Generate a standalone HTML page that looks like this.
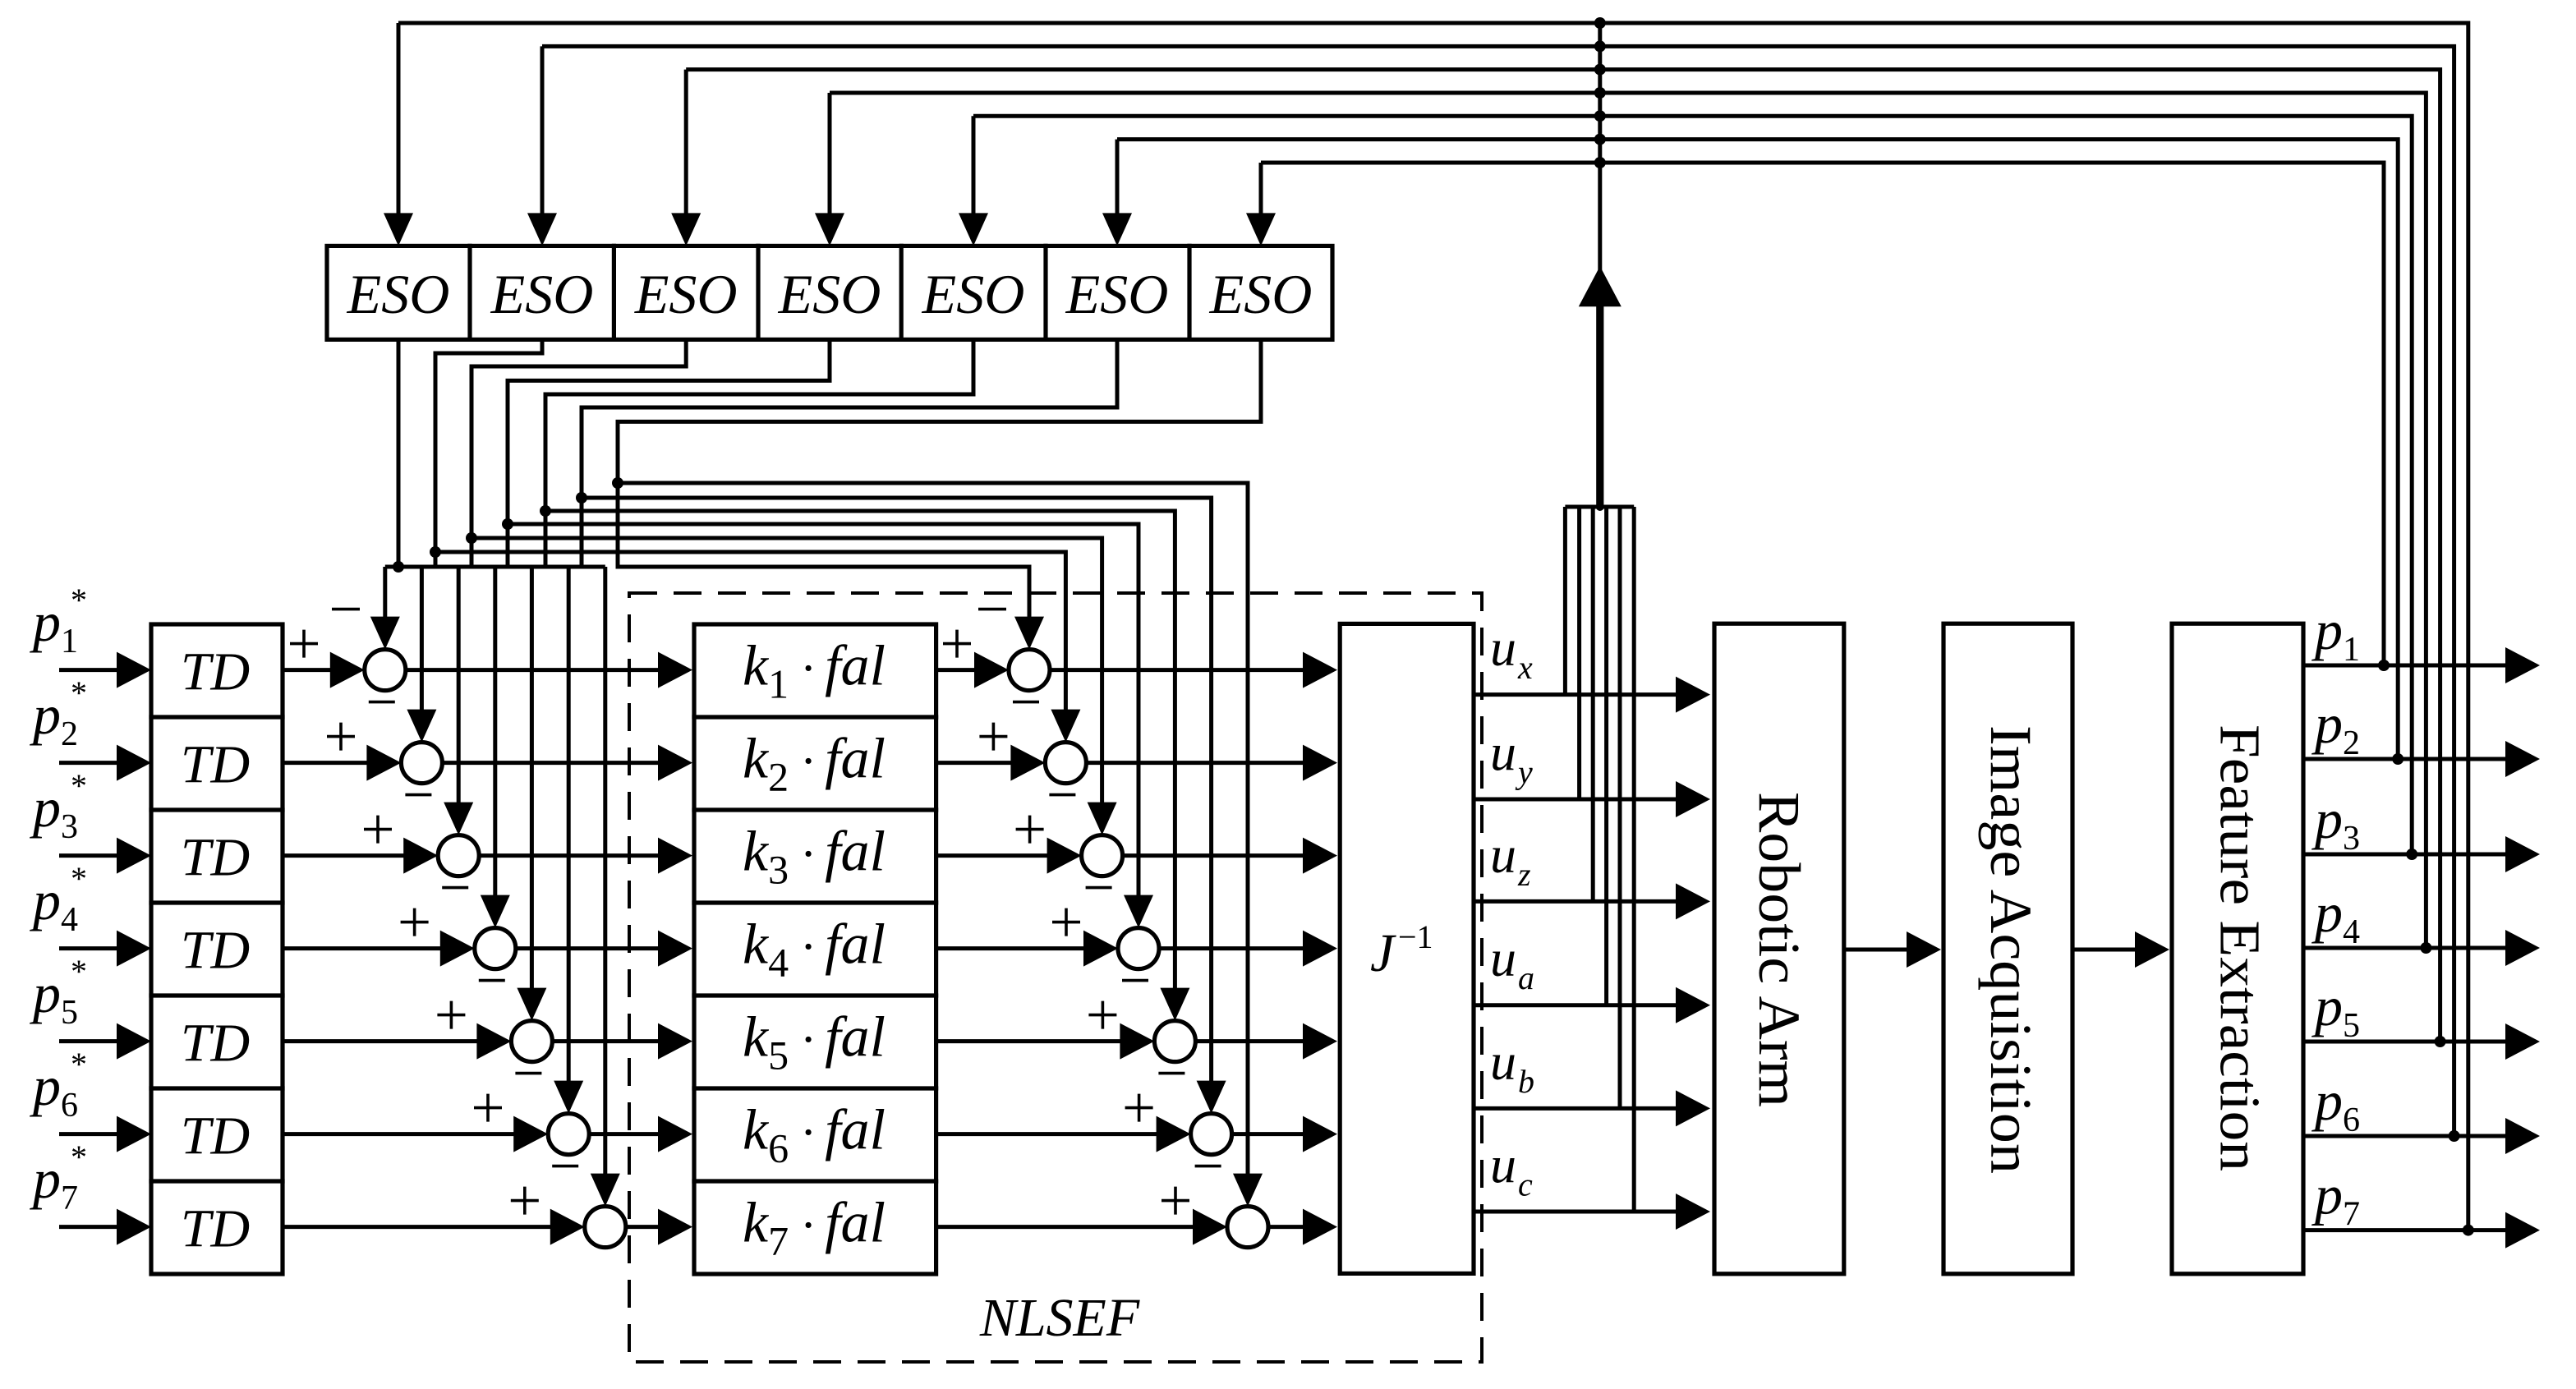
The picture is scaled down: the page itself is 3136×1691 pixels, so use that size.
<!DOCTYPE html>
<html><head><meta charset="utf-8"><style>
html,body{margin:0;padding:0;background:#fff;}
svg{display:block;}
text{font-family:"Liberation Serif",serif;fill:#000;}
.i{font-style:italic;}
</style></head><body>
<svg xmlns="http://www.w3.org/2000/svg" width="3136" height="1691" viewBox="0 0 1568 845.5">
<rect width="1568" height="845.5" fill="#fff"/>
<g stroke="#000" stroke-width="2.6" fill="none" stroke-linecap="square">
<rect x="92" y="380" width="80" height="395.5"/>
<line x1="92" y1="436.5" x2="172" y2="436.5"/><line x1="92" y1="493" x2="172" y2="493"/><line x1="92" y1="549.5" x2="172" y2="549.5"/><line x1="92" y1="606" x2="172" y2="606"/><line x1="92" y1="662.5" x2="172" y2="662.5"/><line x1="92" y1="719" x2="172" y2="719"/>
<rect x="422.5" y="380" width="147.3" height="395.5"/>
<line x1="422.5" y1="436.5" x2="569.8" y2="436.5"/><line x1="422.5" y1="493" x2="569.8" y2="493"/><line x1="422.5" y1="549.5" x2="569.8" y2="549.5"/><line x1="422.5" y1="606" x2="569.8" y2="606"/><line x1="422.5" y1="662.5" x2="569.8" y2="662.5"/><line x1="422.5" y1="719" x2="569.8" y2="719"/>
<rect x="199" y="149.7" width="612" height="57"/>
<line x1="286" y1="149.7" x2="286" y2="206.7"/><line x1="373.7" y1="149.7" x2="373.7" y2="206.7"/><line x1="461.5" y1="149.7" x2="461.5" y2="206.7"/><line x1="548.6" y1="149.7" x2="548.6" y2="206.7"/><line x1="636.5" y1="149.7" x2="636.5" y2="206.7"/><line x1="724" y1="149.7" x2="724" y2="206.7"/>
<rect x="815.6" y="379.7" width="81.4" height="395.5"/>
<rect x="1043.5" y="379.6" width="78.9" height="395.8"/>
<rect x="1183" y="379.6" width="78.5" height="395.8"/>
<rect x="1322" y="379.6" width="80" height="395.8"/>
<rect x="383" y="361" width="519" height="468" stroke-width="2" stroke-dasharray="17 10" stroke-linecap="butt"/>
</g>

<g stroke="#000" stroke-width="2.5" fill="none">
<path d="M36 407.8H75M36 464.3H75M36 520.8H75M36 577.3H75M36 633.8H75M36 690.3H75M36 746.8H75"/>
<path d="M172 407.8H205M172 464.3H228M172 520.8H250M172 577.3H272M172 633.8H295M172 690.3H317M172 746.8H339"/>
<path d="M246.9 407.8H405M269.2 464.3H405M291.6 520.8H405M313.9 577.3H405M336.2 633.8H405M358.6 690.3H405M380.9 746.8H405"/>
<path d="M234.4 345H368.4"/>
<path d="M234.4 345V380M256.7 345V436M279.1 345V493M301.4 345V549M323.7 345V606M346.1 345V662M368.4 345V719"/>
<path d="M242.5 206.7V345"/>
<path d="M330 206.7V215H265V345"/>
<path d="M417.6 206.7V223H287V345"/>
<path d="M505 206.7V231.7H309V345"/>
<path d="M592.5 206.7V240H332V345"/>
<path d="M680 206.7V248H354V345"/>
<path d="M767.5 206.7V256.7H376V345H626.5V380"/>
<path d="M265 336H648.7V436M287 327.5H670.8V493M309 319H693V549M332 311H715.2V606M354 303H737.3V662M376 294H759.5V719"/>
<path d="M569.8 407.8H597M569.8 464.3H619M569.8 520.8H641M569.8 577.3H663M569.8 633.8H686M569.8 690.3H708M569.8 746.8H730"/>
<path d="M639 407.8H798M661.2 464.3H798M683.3 520.8H798M705.5 577.3H798M727.7 633.8H798M749.8 690.3H798M772 746.8H798"/>
<path d="M242.5 14H1502.4V748.8"/>
<path d="M330 28.2H1493.8V691.5"/>
<path d="M417.6 42.3H1485.3V634"/>
<path d="M505 56.5H1476.7V577"/>
<path d="M592.5 70.6H1468.1V520"/>
<path d="M680 84.8H1459.6V462"/>
<path d="M767.5 99H1451V405"/>
<path d="M242.5 14V135M330 28.2V135M417.6 42.3V135M505 56.5V135M592.5 70.6V135M680 84.8V135M767.5 99V135"/>
<path d="M973.9 14V170"/>
<path d="M952.7 308.5H994.6M952.7 308.5V422.8M961.3 308.5V486.5M969.6 308.5V548.7M977.8 308.5V611.9M986 308.5V674.7M994.6 308.5V737.5"/>
<path d="M897 422.8H1025M897 486.5H1025M897 548.7H1025M897 611.9H1025M897 674.7H1025M897 737.5H1025"/>
<path d="M1122.4 578H1165M1261.5 578H1305"/>
<path d="M1402 405H1528M1402 462H1528M1402 520H1528M1402 577H1528M1402 634H1528M1402 691.5H1528M1402 748.8H1528"/>
<g stroke-width="2.6">
<circle cx="234.4" cy="407.8" r="12.5"/><circle cx="256.7" cy="464.3" r="12.5"/><circle cx="279.1" cy="520.8" r="12.5"/><circle cx="301.4" cy="577.3" r="12.5"/><circle cx="323.7" cy="633.8" r="12.5"/><circle cx="346.1" cy="690.3" r="12.5"/><circle cx="368.4" cy="746.8" r="12.5"/>
<circle cx="626.5" cy="407.8" r="12.5"/><circle cx="648.7" cy="464.3" r="12.5"/><circle cx="670.8" cy="520.8" r="12.5"/><circle cx="693" cy="577.3" r="12.5"/><circle cx="715.2" cy="633.8" r="12.5"/><circle cx="737.3" cy="690.3" r="12.5"/><circle cx="759.5" cy="746.8" r="12.5"/>
</g>
<g stroke-width="1.8">
<path d="M176.5 391.8h17M185 383.3v17"/><path d="M199 448.3h17M207.5 439.8v17"/><path d="M221.5 504.8h17M230 496.3v17"/><path d="M243.8 561.3h17M252.3 552.8v17"/><path d="M266.2 617.8h17M274.7 609.3v17"/><path d="M288.5 674.3h17M297 665.8v17"/><path d="M310.9 730.8h17M319.4 722.3v17"/>
<path d="M574 391.8h17M582.5 383.3v17"/><path d="M596.2 448.3h17M604.7 439.8v17"/><path d="M618.3 504.8h17M626.8 496.3v17"/><path d="M640.5 561.3h17M649 552.8v17"/><path d="M662.7 617.8h17M671.2 609.3v17"/><path d="M684.8 674.3h17M693.3 665.8v17"/><path d="M707 730.8h17M715.5 722.3v17"/>
<path d="M202 370.8h17M595.5 370.8h17"/>
<path d="M224.4 427.3h16M246.7 483.8h16M269.1 540.3h16M291.4 596.8h16M313.7 653.3h16M336.1 709.8h16"/>
<path d="M616.5 427.3h16M638.7 483.8h16M660.8 540.3h16M683 596.8h16M705.2 653.3h16M727.3 709.8h16"/>
</g>
</g>

<g fill="#000" stroke="none">
<path d="M92 407.8l-21-11v22zM92 464.3l-21-11v22zM92 520.8l-21-11v22zM92 577.3l-21-11v22zM92 633.8l-21-11v22zM92 690.3l-21-11v22zM92 746.8l-21-11v22z"/>
<path d="M221.9 407.8l-21-11v22zM244.2 464.3l-21-11v22zM266.6 520.8l-21-11v22zM288.9 577.3l-21-11v22zM311.2 633.8l-21-11v22zM333.6 690.3l-21-11v22zM355.9 746.8l-21-11v22z"/>
<path d="M234.4 395.3l-9-20h18zM256.7 451.8l-9-20h18zM279.1 508.3l-9-20h18zM301.4 564.8l-9-20h18zM323.7 621.3l-9-20h18zM346.1 677.8l-9-20h18zM368.4 734.3l-9-20h18z"/>
<path d="M421.5 407.8l-21-11v22zM421.5 464.3l-21-11v22zM421.5 520.8l-21-11v22zM421.5 577.3l-21-11v22zM421.5 633.8l-21-11v22zM421.5 690.3l-21-11v22zM421.5 746.8l-21-11v22z"/>
<path d="M614 407.8l-21-11v22zM636.2 464.3l-21-11v22zM658.3 520.8l-21-11v22zM680.5 577.3l-21-11v22zM702.7 633.8l-21-11v22zM724.8 690.3l-21-11v22zM747 746.8l-21-11v22z"/>
<path d="M626.5 395.3l-9-20h18zM648.7 451.8l-9-20h18zM670.8 508.3l-9-20h18zM693 564.8l-9-20h18zM715.2 621.3l-9-20h18zM737.3 677.8l-9-20h18zM759.5 734.3l-9-20h18z"/>
<path d="M814 407.8l-21-11v22zM814 464.3l-21-11v22zM814 520.8l-21-11v22zM814 577.3l-21-11v22zM814 633.8l-21-11v22zM814 690.3l-21-11v22zM814 746.8l-21-11v22z"/>
<path d="M242.5 149.7l-9-20h18zM330 149.7l-9-20h18zM417.6 149.7l-9-20h18zM505 149.7l-9-20h18zM592.5 149.7l-9-20h18zM680 149.7l-9-20h18zM767.5 149.7l-9-20h18z"/>
<path d="M973.9 162l-13 24.6h26z"/>
<rect x="971.6" y="185" width="4.6" height="124"/>
<path d="M1041 422.8l-21-11v22zM1041 486.5l-21-11v22zM1041 548.7l-21-11v22zM1041 611.9l-21-11v22zM1041 674.7l-21-11v22zM1041 737.5l-21-11v22z"/>
<path d="M1181.5 578l-21-11v22zM1320.5 578l-21-11v22z"/>
<path d="M1546 405l-21-11v22zM1546 462l-21-11v22zM1546 520l-21-11v22zM1546 577l-21-11v22zM1546 634l-21-11v22zM1546 691.5l-21-11v22zM1546 748.8l-21-11v22z"/>
<circle cx="242.5" cy="345" r="3.5"/><circle cx="265" cy="336" r="3.5"/><circle cx="287" cy="327.5" r="3.5"/><circle cx="309" cy="319" r="3.5"/><circle cx="332" cy="311" r="3.5"/><circle cx="354" cy="303" r="3.5"/><circle cx="376" cy="294" r="3.5"/>
<circle cx="973.9" cy="14" r="3.5"/><circle cx="973.9" cy="28.2" r="3.5"/><circle cx="973.9" cy="42.3" r="3.5"/><circle cx="973.9" cy="56.5" r="3.5"/><circle cx="973.9" cy="70.6" r="3.5"/><circle cx="973.9" cy="84.8" r="3.5"/><circle cx="973.9" cy="99" r="3.5"/>
<circle cx="973.9" cy="308.5" r="2.5"/>
<circle cx="1451" cy="405" r="3.5"/><circle cx="1459.6" cy="462" r="3.5"/><circle cx="1468.1" cy="520" r="3.5"/><circle cx="1476.7" cy="577" r="3.5"/><circle cx="1485.3" cy="634" r="3.5"/><circle cx="1493.8" cy="691.5" r="3.5"/><circle cx="1502.4" cy="748.8" r="3.5"/>
</g>

<g font-size="33" text-anchor="middle">
<text class="i" x="131" y="419.8">TD</text><text class="i" x="131" y="476.3">TD</text><text class="i" x="131" y="532.8">TD</text><text class="i" x="131" y="589.3">TD</text><text class="i" x="131" y="645.8">TD</text><text class="i" x="131" y="702.3">TD</text><text class="i" x="131" y="758.8">TD</text>
</g>
<g font-size="34" text-anchor="middle">
<text class="i" x="242.5" y="190.5">ESO</text><text class="i" x="330" y="190.5">ESO</text><text class="i" x="417.6" y="190.5">ESO</text><text class="i" x="505" y="190.5">ESO</text><text class="i" x="592.5" y="190.5">ESO</text><text class="i" x="680" y="190.5">ESO</text><text class="i" x="767.5" y="190.5">ESO</text>
</g>
<g>
<text x="452" y="416.8" font-size="35" class="i">k<tspan font-size="25" font-style="normal" dy="8">1</tspan><tspan font-size="30" font-style="normal" dy="-8" dx="7">·</tspan><tspan dx="5">fal</tspan></text>
<text x="452" y="473.3" font-size="35" class="i">k<tspan font-size="25" font-style="normal" dy="8">2</tspan><tspan font-size="30" font-style="normal" dy="-8" dx="7">·</tspan><tspan dx="5">fal</tspan></text>
<text x="452" y="529.8" font-size="35" class="i">k<tspan font-size="25" font-style="normal" dy="8">3</tspan><tspan font-size="30" font-style="normal" dy="-8" dx="7">·</tspan><tspan dx="5">fal</tspan></text>
<text x="452" y="586.3" font-size="35" class="i">k<tspan font-size="25" font-style="normal" dy="8">4</tspan><tspan font-size="30" font-style="normal" dy="-8" dx="7">·</tspan><tspan dx="5">fal</tspan></text>
<text x="452" y="642.8" font-size="35" class="i">k<tspan font-size="25" font-style="normal" dy="8">5</tspan><tspan font-size="30" font-style="normal" dy="-8" dx="7">·</tspan><tspan dx="5">fal</tspan></text>
<text x="452" y="699.3" font-size="35" class="i">k<tspan font-size="25" font-style="normal" dy="8">6</tspan><tspan font-size="30" font-style="normal" dy="-8" dx="7">·</tspan><tspan dx="5">fal</tspan></text>
<text x="452" y="755.8" font-size="35" class="i">k<tspan font-size="25" font-style="normal" dy="8">7</tspan><tspan font-size="30" font-style="normal" dy="-8" dx="7">·</tspan><tspan dx="5">fal</tspan></text>
</g>
<g font-size="34">
<text x="20" y="390" class="i">p<tspan font-size="21" font-style="normal" dy="7">1</tspan></text><text x="43" y="372" font-size="20">*</text>
<text x="20" y="446.5" class="i">p<tspan font-size="21" font-style="normal" dy="7">2</tspan></text><text x="43" y="428.5" font-size="20">*</text>
<text x="20" y="503" class="i">p<tspan font-size="21" font-style="normal" dy="7">3</tspan></text><text x="43" y="485" font-size="20">*</text>
<text x="20" y="559.5" class="i">p<tspan font-size="21" font-style="normal" dy="7">4</tspan></text><text x="43" y="541.5" font-size="20">*</text>
<text x="20" y="616" class="i">p<tspan font-size="21" font-style="normal" dy="7">5</tspan></text><text x="43" y="598" font-size="20">*</text>
<text x="20" y="672.5" class="i">p<tspan font-size="21" font-style="normal" dy="7">6</tspan></text><text x="43" y="654.5" font-size="20">*</text>
<text x="20" y="729" class="i">p<tspan font-size="21" font-style="normal" dy="7">7</tspan></text><text x="43" y="711" font-size="20">*</text>
</g>
<g font-size="34">
<text x="1409" y="395" class="i">p<tspan font-size="21" font-style="normal" dy="7">1</tspan></text>
<text x="1409" y="452" class="i">p<tspan font-size="21" font-style="normal" dy="7">2</tspan></text>
<text x="1409" y="510" class="i">p<tspan font-size="21" font-style="normal" dy="7">3</tspan></text>
<text x="1409" y="567" class="i">p<tspan font-size="21" font-style="normal" dy="7">4</tspan></text>
<text x="1409" y="624" class="i">p<tspan font-size="21" font-style="normal" dy="7">5</tspan></text>
<text x="1409" y="681.5" class="i">p<tspan font-size="21" font-style="normal" dy="7">6</tspan></text>
<text x="1409" y="738.8" class="i">p<tspan font-size="21" font-style="normal" dy="7">7</tspan></text>
</g>
<g font-size="32">
<text x="907" y="405" class="i">u</text><text x="924" y="413" font-size="20" class="i">x</text>
<text x="907" y="468.7" class="i">u</text><text x="924" y="476.7" font-size="20" class="i">y</text>
<text x="907" y="530.9" class="i">u</text><text x="924" y="538.9" font-size="20" class="i">z</text>
<text x="907" y="594.1" class="i">u</text><text x="924" y="602.1" font-size="20" class="i">a</text>
<text x="907" y="656.9" class="i">u</text><text x="924" y="664.9" font-size="20" class="i">b</text>
<text x="907" y="719.7" class="i">u</text><text x="924" y="727.7" font-size="20" class="i">c</text>
</g>
<text x="834" y="591" font-size="33" class="i">J</text><text x="851" y="577" font-size="20">−1</text>
<text x="645" y="813" font-size="33" class="i" text-anchor="middle">NLSEF</text>
<text x="1083" y="578" font-size="36" text-anchor="middle" dominant-baseline="central" transform="rotate(90 1083 578)" textLength="192" lengthAdjust="spacingAndGlyphs">Robotic Arm</text>
<text x="1224" y="578" font-size="36" text-anchor="middle" dominant-baseline="central" transform="rotate(90 1224 578)" textLength="273" lengthAdjust="spacingAndGlyphs">Image Acquisition</text>
<text x="1363" y="577" font-size="35" text-anchor="middle" dominant-baseline="central" transform="rotate(90 1363 577)" textLength="272" lengthAdjust="spacingAndGlyphs">Feature Extraction</text>
</svg>
</body></html>
